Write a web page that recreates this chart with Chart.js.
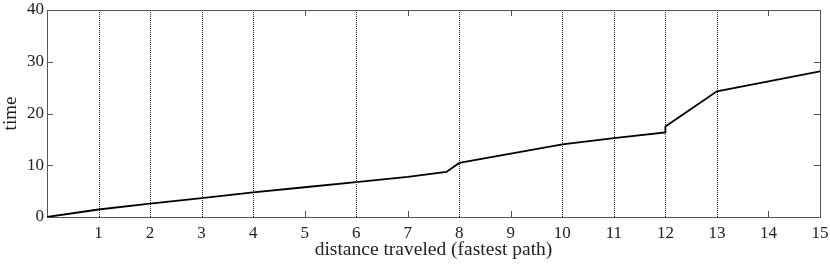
<!DOCTYPE html>
<html>
<head>
<meta charset="utf-8">
<script src="https://cdn.jsdelivr.net/npm/chart.js@4/dist/chart.umd.min.js"></script>
<style>
  html, body { margin: 0; padding: 0; background: #fff; }
  #wrap { width: 830px; height: 266px; }
</style>
</head>
<body>
<div id="wrap"><canvas id="timeChart"></canvas></div>
<script>
// distance (x) and time (y) along the fastest path
const distance = [0, 1, 2, 3, 4, 5, 6, 7, 7.75, 8, 9, 10, 11, 12, 12, 13, 14, 15];
const time = [0, 1.45, 2.6, 3.65, 4.75, 5.75, 6.75, 7.75, 8.7, 10.45, 12.25, 14.05, 15.25, 16.35, 17.5, 24.3, 26.2, 28.15];
// dotted vertical markers
const markers = [1, 2, 3, 4, 6, 8, 10, 11, 12, 13];
const xTicks = [1, 2, 3, 4, 5, 6, 7, 8, 9, 10, 11, 12, 13, 14, 15];
const yTicks = [0, 10, 20, 30, 40];

const points = distance.map((d, i) => ({ x: d, y: time[i] }));

const frameColor = "#555";
const family = "'Liberation Serif', 'DejaVu Serif', serif";
const tickFont = { family: family, size: 17 };

// frame, inward ticks and dotted markers
const framePlugin = {
  id: "frame",
  beforeDatasetsDraw(chart) {
    const { ctx, chartArea: a, scales } = chart;
    const xs = scales.x, ys = scales.y;
    ctx.save();
    ctx.lineWidth = 1;
    ctx.strokeStyle = "#222";
    ctx.setLineDash([1, 1]);
    markers.forEach((m) => {
      const px = Math.round(xs.getPixelForValue(m)) + 0.5;
      ctx.beginPath();
      ctx.moveTo(px, a.top);
      ctx.lineTo(px, a.bottom);
      ctx.stroke();
    });
    ctx.setLineDash([]);
    ctx.strokeStyle = frameColor;
    const len = 6;
    xTicks.forEach((t) => {
      if (markers.includes(t)) return;
      const px = Math.round(xs.getPixelForValue(t)) + 0.5;
      ctx.beginPath();
      ctx.moveTo(px, a.bottom);
      ctx.lineTo(px, a.bottom - len);
      ctx.moveTo(px, a.top);
      ctx.lineTo(px, a.top + len);
      ctx.stroke();
    });
    yTicks.forEach((t) => {
      const py = Math.round(ys.getPixelForValue(t)) + 0.5;
      ctx.beginPath();
      ctx.moveTo(a.left, py);
      ctx.lineTo(a.left + len, py);
      ctx.moveTo(a.right, py);
      ctx.lineTo(a.right - len, py);
      ctx.stroke();
    });
    ctx.strokeRect(Math.round(a.left) + 0.5, Math.round(a.top) + 0.5,
      Math.round(a.right - a.left), Math.round(a.bottom - a.top));
    ctx.restore();
  },
};

new Chart(document.getElementById("timeChart"), {
  type: "scatter",
  data: {
    datasets: [
      {
        data: points,
        showLine: true,
        borderColor: "#000",
        borderWidth: 1.8,
        pointRadius: 0,
        tension: 0,
      },
    ],
  },
  options: {
    responsive: true,
    maintainAspectRatio: false,
    animation: false,
    layout: { padding: { top: 10, right: 10, left: 0, bottom: 0 } },
    plugins: { legend: { display: false }, tooltip: { enabled: false } },
    scales: {
      x: {
        type: "linear",
        min: 0,
        max: 15,
        grid: { display: false, drawTicks: false },
        border: { display: false },
        afterBuildTicks: (scale) => {
          scale.ticks = xTicks.map((v) => ({ value: v }));
        },
        ticks: { color: "#222", font: tickFont, padding: 6, maxRotation: 0 },
        title: {
          display: true,
          text: "distance traveled (fastest path)",
          color: "#222",
          font: { family: family, size: 19.5 },
          padding: { top: 0, bottom: 4 },
        },
        afterFit: (scale) => {
          scale.height = 49;
          scale.paddingLeft = 0;
          scale.paddingRight = 0;
        },
      },
      y: {
        min: 0,
        max: 40,
        grid: { display: false, drawTicks: false },
        border: { display: false },
        afterBuildTicks: (scale) => {
          scale.ticks = yTicks.map((v) => ({ value: v }));
        },
        ticks: { color: "#222", font: tickFont, padding: 3 },
        title: {
          display: true,
          text: "time",
          color: "#222",
          font: { family: family, size: 19 },
          padding: { top: 0, bottom: 4 },
        },
        afterFit: (scale) => {
          scale.width = 47;
          scale.paddingTop = 0;
          scale.paddingBottom = 0;
        },
      },
    },
  },
  plugins: [framePlugin],
});
</script>
</body>
</html>
